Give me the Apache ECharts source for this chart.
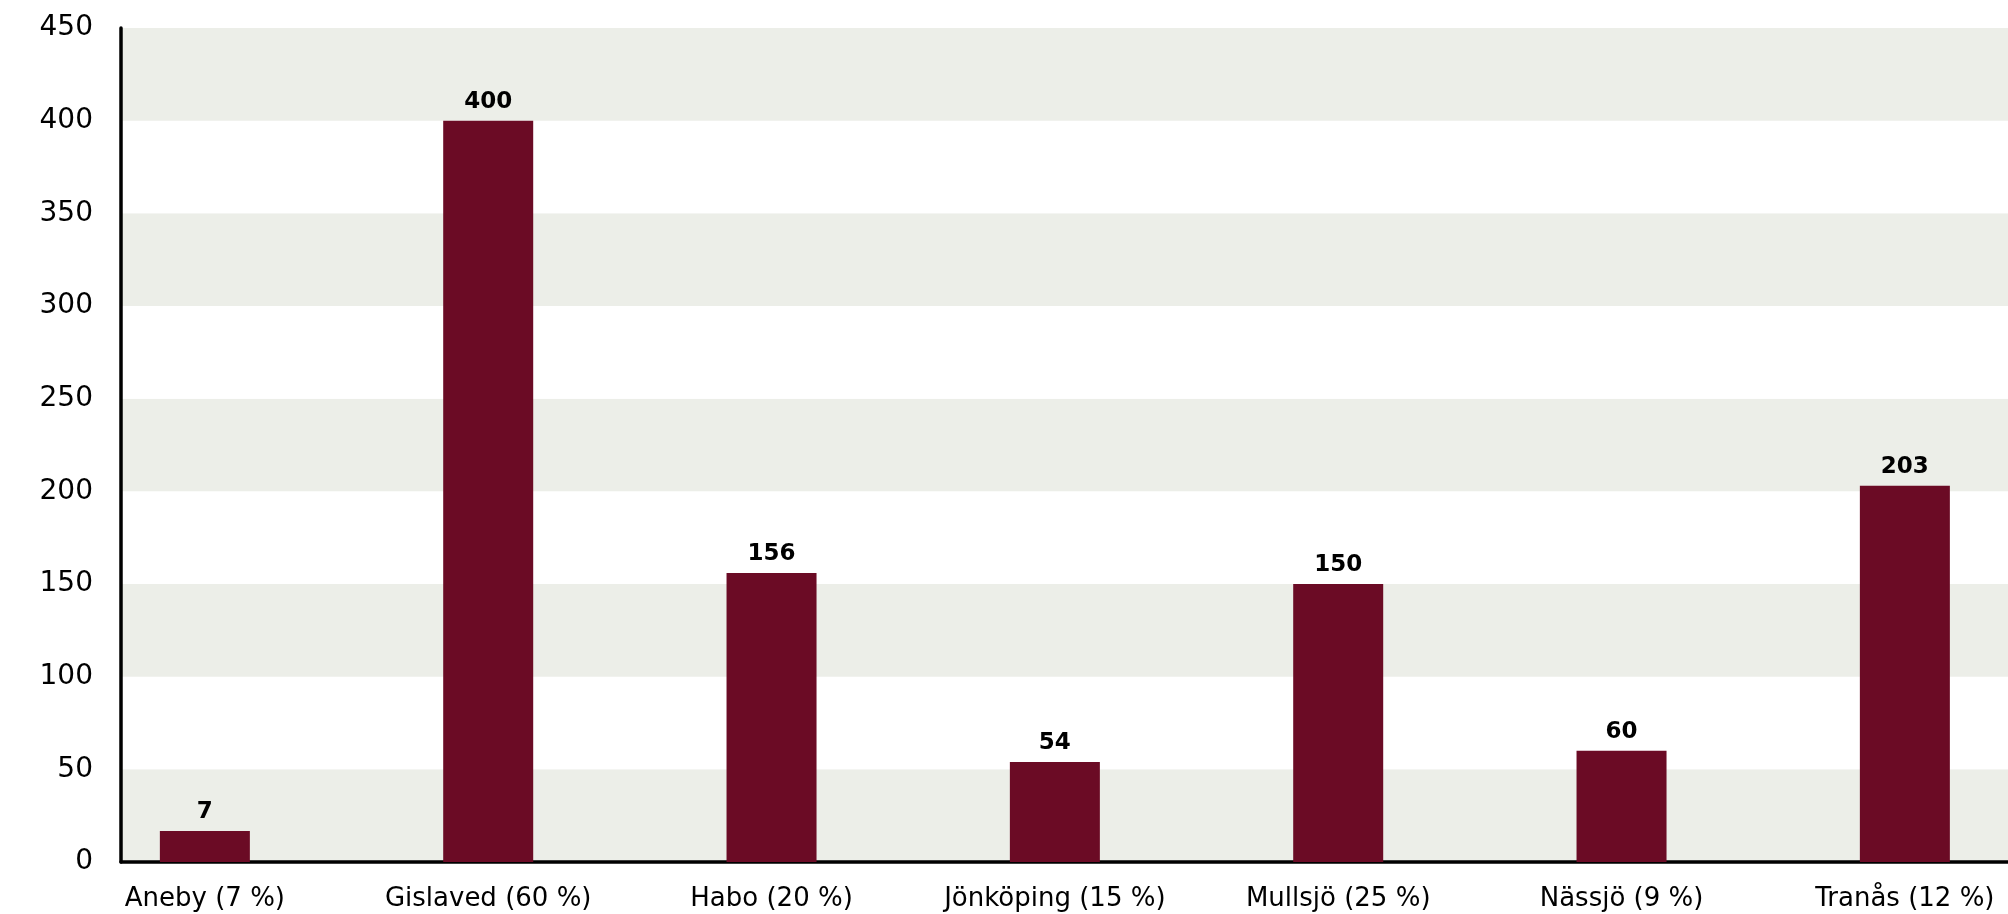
<!DOCTYPE html>
<html>
<head>
<meta charset="utf-8">
<script src="https://cdn.jsdelivr.net/npm/echarts@6/dist/echarts.min.js"></script>
<style>
  html, body { margin: 0; padding: 0; background: #ffffff; }
  #chart { width: 2008px; height: 914px; }
</style>
</head>
<body>
<div id="chart"></div>
<script>
// Municipalities with their share in parentheses
const categories = ['Aneby (7 %)', 'Gislaved (60 %)', 'Habo (20 %)', 'Jönköping (15 %)', 'Mullsjö (25 %)', 'Nässjö (9 %)', 'Tranås (12 %)'];
const values = [7, 400, 156, 54, 150, 60, 203];
const yTicks = [0, 50, 100, 150, 200, 250, 300, 350, 400, 450];

const FONT = '"DejaVu Sans", "Open Sans", sans-serif';
const BAR = '#6b0b25';
const BAND = '#eceee8';

// bars sit at category index positions on a numeric x scale
const barData = values.map((v, i) => [i, v]);

const chart = echarts.init(document.getElementById('chart'), null, { renderer: 'canvas' });
chart.setOption({
  animation: false,
  backgroundColor: '#ffffff',
  grid: { left: 121, right: 0, top: 28, bottom: 52, containLabel: false },
  xAxis: {
    type: 'value',
    min: -0.296,
    max: 6.364,
    splitLine: { show: false },
    axisLine: { show: true, onZero: false, lineStyle: { color: '#000', width: 3.5 } },
    axisTick: { show: false },
    axisLabel: {
      customValues: categories.map((c, i) => i),
      formatter: v => categories[Math.round(v)],
      color: '#000',
      fontFamily: FONT,
      fontSize: 26,
      margin: 24,
      showMinLabel: true,
      showMaxLabel: true
    }
  },
  yAxis: {
    type: 'value',
    min: yTicks[0],
    max: yTicks[yTicks.length - 1],
    interval: 50,
    axisLine: { show: true, onZero: false, lineStyle: { color: '#000', width: 3.5 } },
    axisTick: { show: false },
    splitLine: { show: false },
    splitArea: { show: true, areaStyle: { color: [BAND, '#ffffff'] } },
    axisLabel: {
      color: '#000',
      fontFamily: FONT,
      fontSize: 28,
      margin: 28,
      padding: [6, 0, 0, 0]
    }
  },
  series: [{
    type: 'bar',
    data: barData,
    barWidth: 90,
    barMinHeight: 31,
    itemStyle: { color: BAR },
    label: {
      show: true,
      position: 'top',
      distance: 7,
      color: '#000',
      fontFamily: FONT,
      fontWeight: 'bold',
      fontSize: 23,
      formatter: p => p.value[1]
    }
  }]
});
</script>
</body>
</html>
